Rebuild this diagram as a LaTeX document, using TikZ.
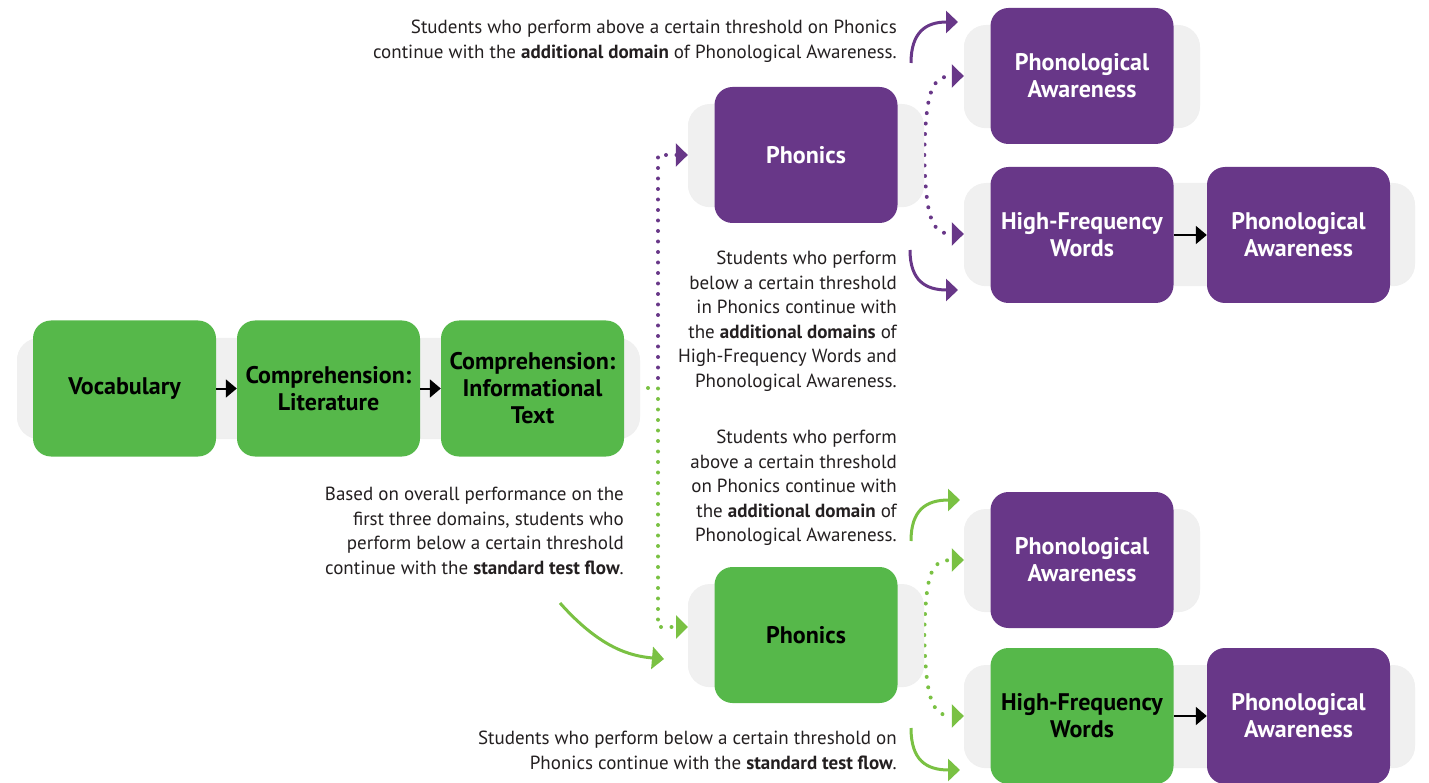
\documentclass[tikz,border=0pt]{standalone}
\usepackage{fontspec}
\setmainfont{PT Sans}
\usetikzlibrary{arrows.meta,shadows}
\definecolor{grn}{HTML}{56B84A}
\definecolor{pur}{HTML}{683788}
\definecolor{lgrn}{HTML}{7AC143}
\definecolor{bgg}{HTML}{F0F0F0}
\definecolor{txt}{HTML}{231F20}
\pgfdeclarelayer{behind}
\pgfsetlayers{behind,main}
\begin{document}
\begin{tikzpicture}[x=1pt,y=-1pt,
  bgbox/.style={fill=bgg, rounded corners=22pt, minimum width=#1, minimum height=102pt, inner sep=0pt,
    drop shadow={shadow xshift=0pt,shadow yshift=-1.2pt,opacity=0.12}},
  bgbox/.default=236pt,
  dombox/.style={rounded corners=18pt, minimum width=183pt, minimum height=136pt, inner sep=0pt,
    align=center, font=\bfseries\fontsize{24}{27}\selectfont},
  gbox/.style={dombox, fill=grn, text=black},
  pbox/.style={dombox, fill=pur, text=white},
  note/.style={align=right, anchor=north east, inner sep=0pt, text=txt, font=\fontsize{19}{24.5}\selectfont},
  blk/.style={-{Triangle[length=11pt,width=18pt]}, line width=2pt, black},
  pcurve/.style={-{Triangle[length=12pt,width=22pt]}, line width=3pt, pur},
  gcurve/.style={-{Triangle[length=12pt,width=22pt]}, line width=3pt, lgrn},
  pdots/.style={line width=4pt, line cap=round, dash pattern=on 0pt off 10.5pt, pur, -{Triangle[length=12pt,width=23pt]}},
  gdots/.style={line width=4pt, line cap=round, dash pattern=on 0pt off 10.5pt, lgrn, -{Triangle[length=12pt,width=23pt]}}
]
\useasboundingbox (0,0) rectangle (1429,783);

% background strips
\node[bgbox=623pt, minimum height=100pt] (mainbg) at (328.5,388) {};
\node[bgbox] (phonPbg) at (806,155) {};
\node[bgbox] (paTopbg) at (1082,76) {};
\node[bgbox=451pt] (hfwPbg) at (1189.5,234) {};
\node[bgbox] (phonGbg) at (806,635) {};
\node[bgbox] (paGbg) at (1082,560) {};
\node[bgbox=451pt] (hfwGbg) at (1189.5,716) {};

% domain boxes
\node[gbox] (vocab) at (124.5,388.5) {Vocabulary};
\node[gbox] (complit) at (328.5,388.5) {Comprehension:\\Literature};
\node[gbox] (compinfo) at (532.5,388.5) {Comprehension:\\Informational\\Text};
\node[pbox] (phonP) at (806,155) {Phonics};
\node[pbox] (paTop) at (1082,76) {Phonological\\Awareness};
\node[pbox] (hfwP) at (1082,235) {High-Frequency\\Words};
\node[pbox] (paP2) at (1298.5,235) {Phonological\\Awareness};
\node[gbox] (phonG) at (806,635) {Phonics};
\node[pbox] (paG) at (1082,560) {Phonological\\Awareness};
\node[gbox] (hfwG) at (1082,716) {High-Frequency\\Words};
\node[pbox] (paG2) at (1298.5,716) {Phonological\\Awareness};

% black arrows
\draw[blk] (vocab.east) -- (complit.west);
\draw[blk] (complit.east) -- (compinfo.west);
\draw[blk] (hfwP.east) -- (paP2.west);
\draw[blk] (hfwG.east) -- (paG2.west);

% dotted connectors
\coordinate (junc) at (648,388);
\coordinate (jp) at (658,378);
\coordinate (gin) at (688,627);
\begin{pgfonlayer}{behind}
\draw[gdots] (junc) -- (658,388) |- (gin);
\draw[pdots] (jp) |- (phonPbg.west);
\draw[pdots] (phonPbg.east) .. controls (926,90) and (932,76) .. (paTopbg.west);
\draw[pdots] (phonPbg.east) .. controls (926,220) and (932,234) .. (hfwPbg.west);
\draw[gdots] (phonGbg.east) .. controls (926,570) and (932,560) .. (paGbg.west);
\draw[gdots] (phonGbg.east) .. controls (926,700) and (932,716) .. (hfwGbg.west);
\end{pgfonlayer}

% solid curved arrows
\coordinate (pu0) at (911,63);  \coordinate (pu1) at (958,22);
\coordinate (pd0) at (910,250); \coordinate (pd1) at (958,290);
\coordinate (gu0) at (911,541); \coordinate (gu1) at (960,500);
\coordinate (gd0) at (911,728); \coordinate (gd1) at (960,770);
\coordinate (gl0) at (560,603); \coordinate (gl1) at (664,659);
\draw[pcurve] (pu0) .. controls (911,32) and (926,22) .. (pu1);
\draw[pcurve] (pd0) .. controls (910,281) and (926,290) .. (pd1);
\draw[gcurve] (gu0) .. controls (911,510) and (926,500) .. (gu1);
\draw[gcurve] (gd0) .. controls (911,760) and (926,770) .. (gd1);
\draw[gcurve] (gl0) .. controls (600,648) and (630,656) .. (gl1);

% notes
\node[note] (n1) at (897,20) {Students who perform above a certain threshold on Phonics\\continue with the \textbf{additional domain} of Phonological Awareness.};
\node[note] (n2) at (897,251) {Students who perform\\below a certain threshold\\in Phonics continue with\\the \textbf{additional domains} of\\High-Frequency Words and\\Phonological Awareness.};
\node[note] (n3) at (897,430) {Students who perform\\above a certain threshold\\on Phonics continue with\\the \textbf{additional domain} of\\Phonological Awareness.};
\node[note] (n4) at (624,487) {Based on overall performance on the\\first three domains, students who\\perform below a certain threshold\\continue with the \textbf{standard test flow}.};
\node[note] (n5) at (897,731) {Students who perform below a certain threshold on\\Phonics continue with the \textbf{standard test flow}.};
\end{tikzpicture}
\end{document}
